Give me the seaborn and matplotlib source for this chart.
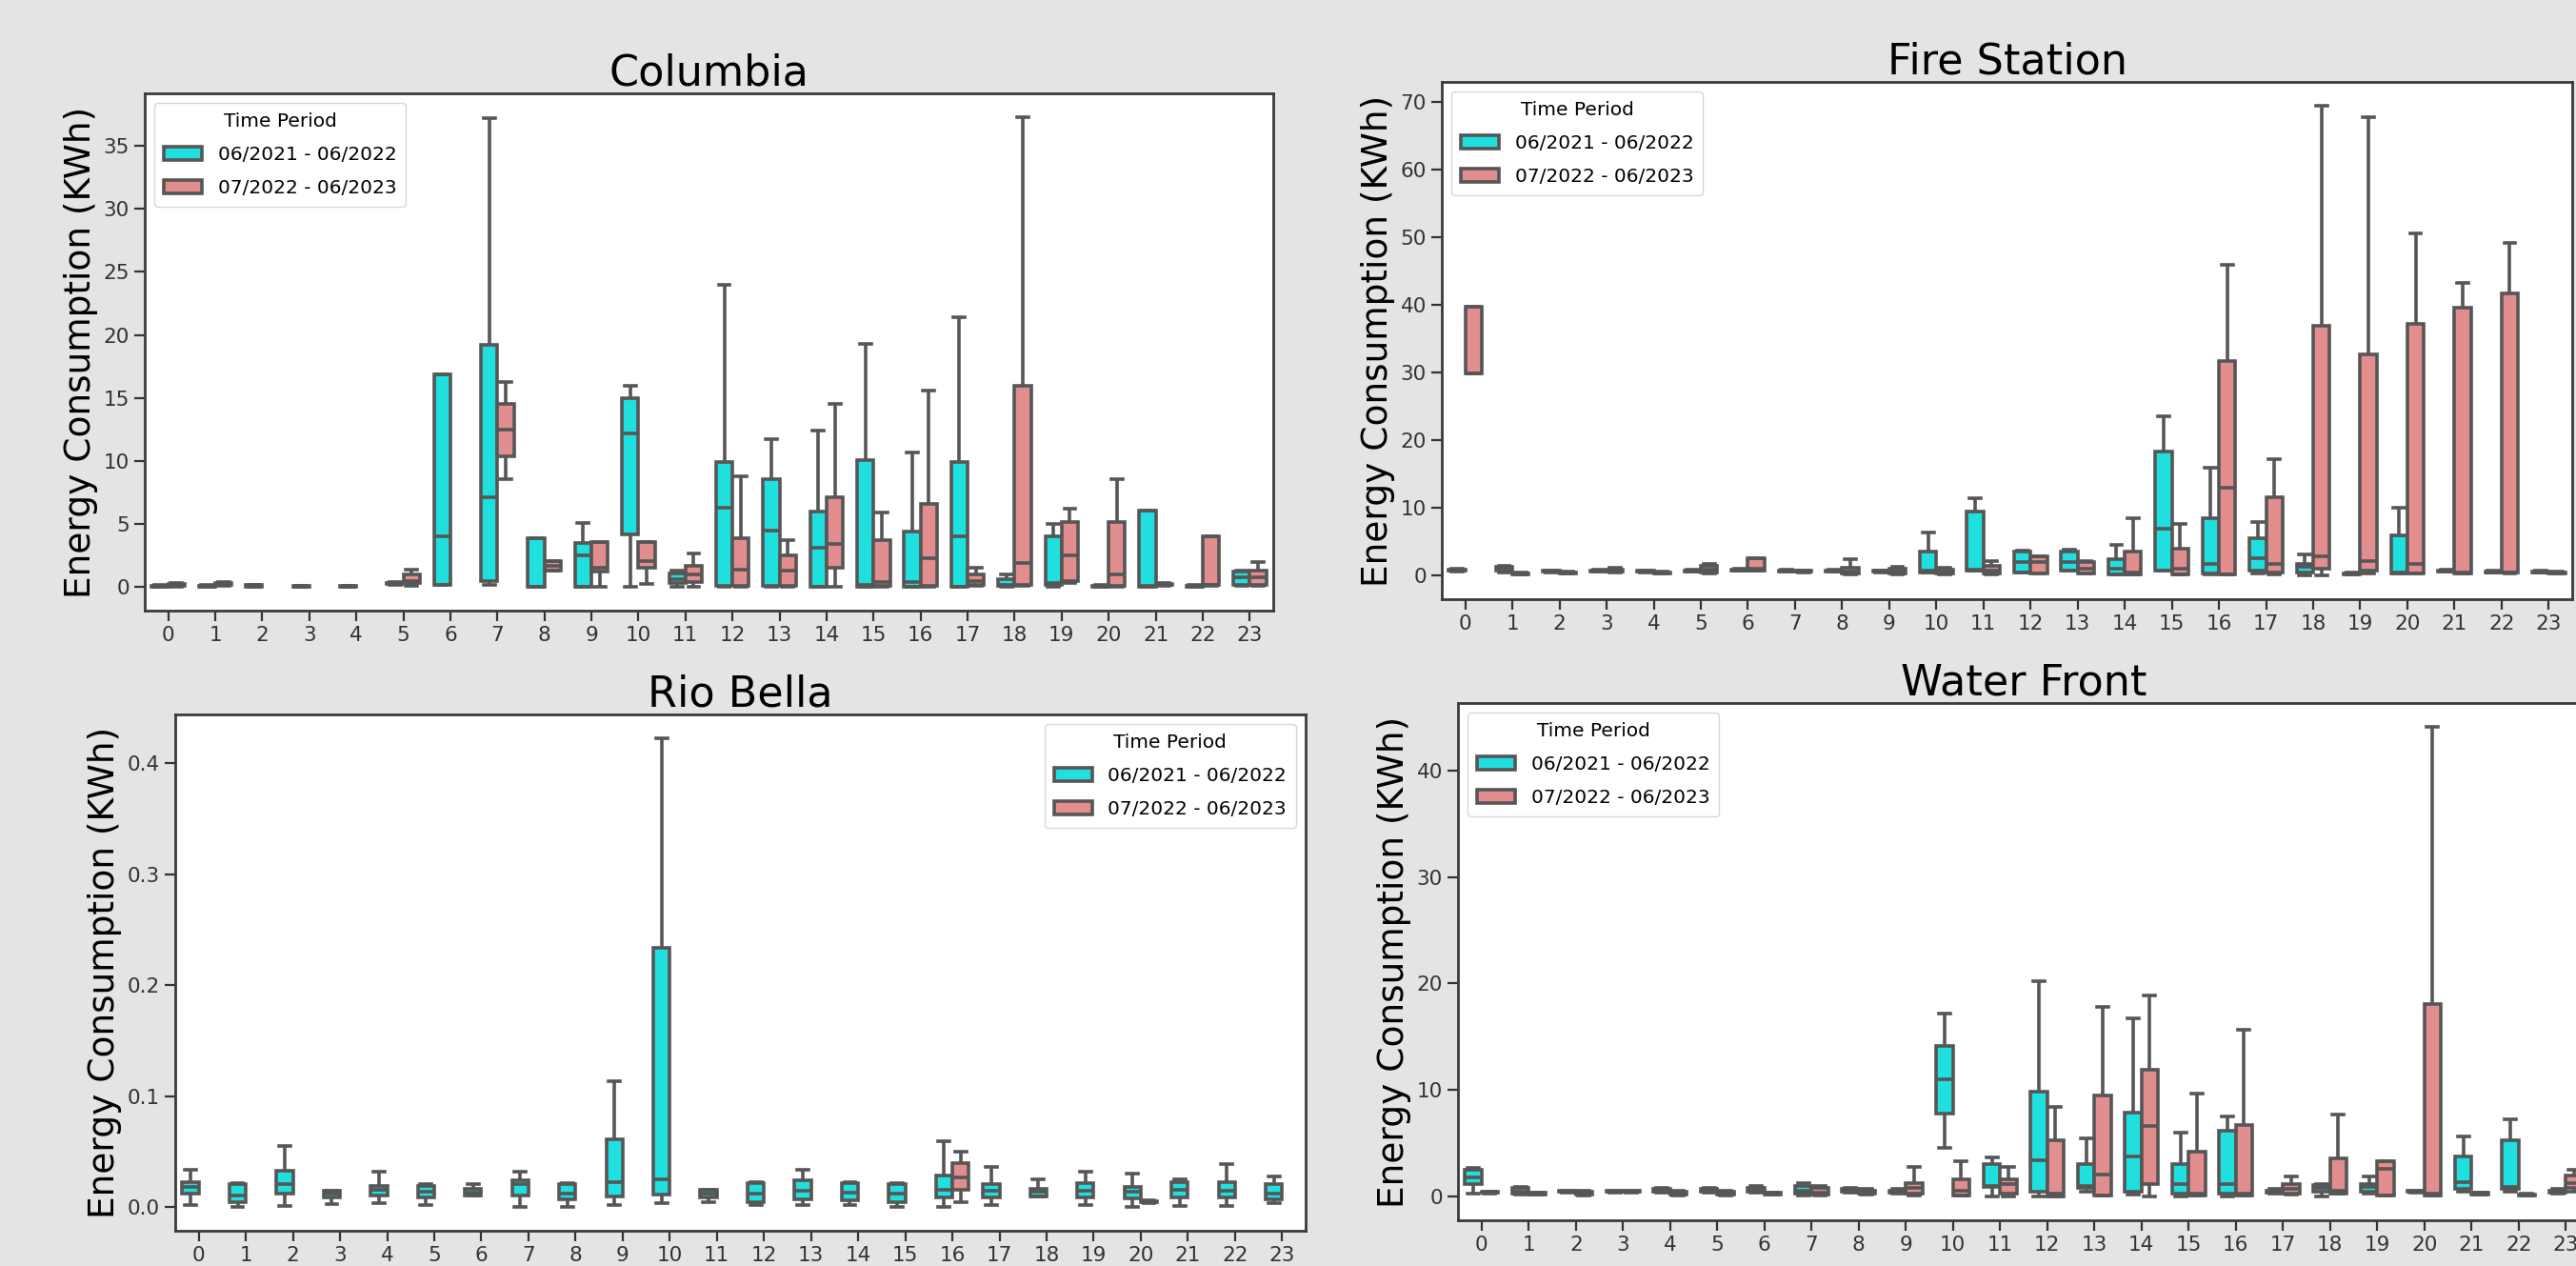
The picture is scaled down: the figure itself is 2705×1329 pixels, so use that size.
import numpy as np
import pandas as pd
import matplotlib.pyplot as plt
import matplotlib.ticker as mticker
import seaborn as sb

hours = list(range(24))
periods = ['06/2021 - 06/2022', '07/2022 - 06/2023']
colors = ['cyan', 'lightcoral']

# each hour: (lower whisker, q1, median, q3, upper whisker); None = no data
columbia_p1 = [(0, .02, .05, .1, .15), (0, .02, .05, .1, .15), (0, .05, .1, .15, .2), (0, .03, .05, .08, .1),
               (0, .03, .05, .08, .1), (.2, .25, .3, .35, .4), (.2, .2, 4.0, 16.9, 16.9), (.2, .5, 7.1, 19.2, 37.2),
               (0, 0, .05, 3.9, 3.9), (0, 0, 2.5, 3.5, 5.1), (0, 4.2, 12.2, 15.0, 16.0), (0, .3, .6, 1.1, 1.3),
               (0, .1, 6.3, 9.9, 24.0), (0, .1, 4.5, 8.6, 11.7), (0, .05, 3.1, 6.0, 12.4), (0, .05, .2, 10.1, 19.3),
               (0, .05, .4, 4.4, 10.7), (0, .05, 4.0, 9.9, 21.4), (0, .1, .2, .6, 1.0), (0, .2, .3, 4.0, 5.0),
               (0, .02, .05, .1, .15), (.05, .06, .1, 6.1, 6.1), (0, .02, .05, .1, .15), (.1, .2, .8, 1.2, 1.3)]
columbia_p2 = [(.05, .1, .15, .25, .35), (.1, .15, .2, .3, .4), None, None,
               None, (.1, .3, .5, 1.0, 1.4), None, (8.6, 10.4, 12.5, 14.5, 16.3),
               (1.3, 1.3, 1.7, 2.05, 2.05), (0, 1.2, 1.5, 3.6, 3.6), (.25, 1.5, 2.05, 3.6, 3.6), (0, .4, 1.0, 1.7, 2.7),
               (0, .1, 1.4, 3.9, 8.8), (0, .1, 1.3, 2.55, 3.7), (0, 1.5, 3.4, 7.1, 14.5), (0, .1, .4, 3.7, 5.9),
               (0, .1, 2.3, 6.6, 15.6), (.1, .2, .45, 1.0, 1.5), (.1, .2, 1.9, 16.0, 37.3), (.3, .5, 2.5, 5.2, 6.2),
               (0, .1, 1.0, 5.2, 8.6), (.1, .15, .2, .25, .3), (.1, .15, .2, 4.0, 4.0), (.1, .2, .8, 1.3, 2.0)]

fire_p1 = [(.6, .7, .8, .9, 1.0), (.5, .7, 1.0, 1.3, 1.5), (.5, .55, .6, .7, .8), (.6, .65, .7, .8, .9),
           (.5, .55, .6, .7, .8), (.6, .65, .7, .8, .9), (.7, .75, .8, .9, 1.0), (.6, .65, .7, .8, .9),
           (.6, .65, .7, .8, .9), (.5, .55, .6, .7, .8), (.5, .5, .8, 3.6, 6.4), (.8, .8, .9, 9.5, 11.4),
           (.5, .5, 2.0, 3.5, 3.7), (.8, .8, 2.0, 3.6, 3.9), (.2, .2, 1.1, 2.4, 4.6), (.8, .8, 7.0, 18.3, 23.6),
           (.2, .3, 1.7, 8.5, 15.9), (.3, .7, 2.6, 5.6, 7.9), (0, .4, 1.3, 1.8, 3.2), (.2, .25, .3, .35, .4),
           (.3, .3, .4, 6.0, 10.0), (.6, .65, .7, .8, .9), (.4, .45, .5, .6, .7), (.4, .45, .5, .6, .7)]
fire_p2 = [(29.9, 29.9, 29.9, 39.8, 39.8), (.2, .25, .3, .35, .4), (.3, .35, .4, .5, .6), (.5, .6, .7, .9, 1.2),
           (.3, .35, .4, .5, .6), (.3, .5, .9, 1.5, 1.8), (.8, .8, 1.0, 2.6, 2.6), (.5, .55, .6, .7, .8),
           (.2, .3, .6, 1.2, 2.4), (.2, .3, .6, 1.0, 1.3), (.2, .3, .5, .9, 1.2), (.2, .3, .8, 1.5, 2.2),
           (.3, .3, 2.0, 2.8, 2.8), (.3, .3, 1.0, 2.0, 2.2), (.2, .2, .5, 3.6, 8.5), (.2, .2, 1.1, 4.0, 7.6),
           (.2, .2, 13.0, 31.7, 45.9), (.2, .4, 1.8, 11.6, 17.2), (.1, 1.0, 2.9, 36.9, 69.5), (.3, .7, 2.2, 32.7, 67.7),
           (.3, .3, 1.8, 37.2, 50.6), (.3, .3, .4, 39.6, 43.2), (.3, .4, .5, 41.7, 49.2), (.3, .35, .4, .5, .6)]

rio_p1 = [(.002, .0124, .018, .023, .034), (0, .005, .0106, .0206, .022), (.001, .0124, .021, .0327, .055),
          (.003, .0089, .012, .0149, .015), (.0035, .0106, .016, .0195, .032), (.002, .0089, .014, .0195, .021),
          (.0106, .0106, .013, .017, .021), (0, .0106, .021, .024, .032), (0, .007, .0124, .021, .022),
          (.002, .0096, .023, .061, .114), (.0035, .0114, .0248, .2335, .423), (.005, .0089, .012, .016, .016),
          (.002, .005, .0124, .022, .023), (.002, .007, .015, .024, .034), (.002, .006, .0135, .022, .023),
          (0, .005, .0124, .0206, .022), (0, .0089, .016, .029, .0596), (.002, .0089, .015, .021, .036),
          (.0096, .0096, .014, .017, .0256), (.002, .0089, .015, .022, .032), (0, .0078, .014, .018, .030),
          (.001, .0089, .016, .023, .025), (.001, .0089, .015, .023, .039), (.0035, .007, .0124, .0206, .028)]
rio_p2 = [None] * 16 + [(.005, .016, .0273, .0398, .0504), None, None, None,
                        (.004, .0045, .005, .0055, .006), None, None, None]

water_p1 = [(.3, 1.2, 1.8, 2.5, 2.7), (.2, .3, .5, .8, .9), (.4, .45, .5, .55, .6), (.4, .45, .5, .55, .6),
            (.4, .5, .6, .7, .8), (.4, .5, .6, .7, .8), (.4, .5, .6, .8, 1.0), (.1, .3, .6, 1.0, 1.3),
            (.4, .5, .6, .7, .8), (.3, .4, .5, .6, .7), (4.55, 7.8, 11.0, 14.1, 17.2), (0, .9, 1.0, 3.1, 3.7),
            (0, .5, 3.4, 9.9, 20.2), (.5, .8, 1.0, 3.1, 5.5), (.2, .5, 3.8, 7.9, 16.7), (0, .3, 1.15, 3.1, 6.0),
            (0, .3, 1.2, 6.2, 7.5), (.3, .4, .5, .6, .7), (0, .5, .8, 1.1, 1.2), (.3, .5, .9, 1.2, 1.9),
            (.4, .45, .5, .55, .6), (.5, .7, 1.4, 3.8, 5.7), (.5, .7, .9, 5.3, 7.3), (.3, .4, .5, .6, .7)]
water_p2 = [(.3, .35, .4, .45, .5), (.2, .25, .3, .35, .4), (.1, .2, .3, .5, .6), (.4, .45, .5, .55, .6),
            (.1, .2, .3, .5, .6), (.1, .2, .3, .5, .6), (.2, .25, .3, .35, .4), (.1, .2, .4, .8, 1.0),
            (.2, .3, .4, .6, .7), (.1, .3, .8, 1.3, 2.8), (.1, .1, .55, 1.6, 3.3), (0, .3, 1.15, 1.6, 2.8),
            (0, 0, .3, 5.3, 8.4), (.1, .1, 2.1, 9.5, 17.8), (0, 1.2, 6.6, 11.9, 18.9), (.1, .1, .3, 4.2, 9.7),
            (.1, .1, .3, 6.7, 15.7), (.2, .3, .7, 1.2, 1.9), (.3, .3, .55, 3.6, 7.7), (.1, .1, 2.6, 3.3, 3.3),
            (.1, .1, .3, 18.1, 44.1), (.2, .25, .3, .35, .4), (.1, .15, .2, .25, .3), (.5, .8, 1.3, 2.0, 2.5)]


def to_long(p1, p2):
    rows = []
    for period, stats in zip(periods, [p1, p2]):
        for h, s in zip(hours, stats):
            if s is None:
                continue
            for v in s:
                rows.append((h, period, v))
    return pd.DataFrame(rows, columns=['hour', 'period', 'kwh'])


plt.rcParams['axes.edgecolor'] = '#3a3a3a'
plt.rcParams['axes.linewidth'] = 2

fig = plt.figure(figsize=(27.05, 13.29), dpi=100, facecolor='#e4e4e4')

W, H = 2705, 1329
panels = [
    ('Columbia', columbia_p1, columbia_p2, (152, 98, 1337, 641), 5, 'upper left'),
    ('Fire Station', fire_p1, fire_p2, (1514, 86, 2701, 629), 10, 'upper left'),
    ('Rio Bella', rio_p1, rio_p2, (184, 750, 1371, 1292), 0.1, 'upper right'),
    ('Water Front', water_p1, water_p2, (1531, 738, 2719, 1281), 10, 'upper left'),
]

for name, p1, p2, (x0, y0, x1, y1), step, loc in panels:
    ax = fig.add_axes([x0 / W, 1 - y1 / H, (x1 - x0) / W, (y1 - y0) / H])
    df = to_long(p1, p2)
    sb.boxplot(data=df, x='hour', y='kwh', hue='period', hue_order=periods, palette=colors,
               whis=(0, 100), showfliers=False, width=0.7, linewidth=2.6, linecolor='#565656',
               capwidths=0.24, ax=ax)
    ax.yaxis.set_major_locator(mticker.MultipleLocator(step))
    ax.set_xlabel('')
    ax.set_ylabel('Energy Consumption (KWh)', fontsize=27)
    ax.set_title(name, fontsize=32)
    ax.tick_params(labelsize=15.5, length=8, width=1.6, colors='#333333')
    sb.move_legend(ax, loc, title='Time Period', fontsize=14.5, title_fontsize=14.5,
                   labelspacing=0.8, borderpad=0.5)

fig.savefig('out.png', dpi=100, facecolor=fig.get_facecolor())
